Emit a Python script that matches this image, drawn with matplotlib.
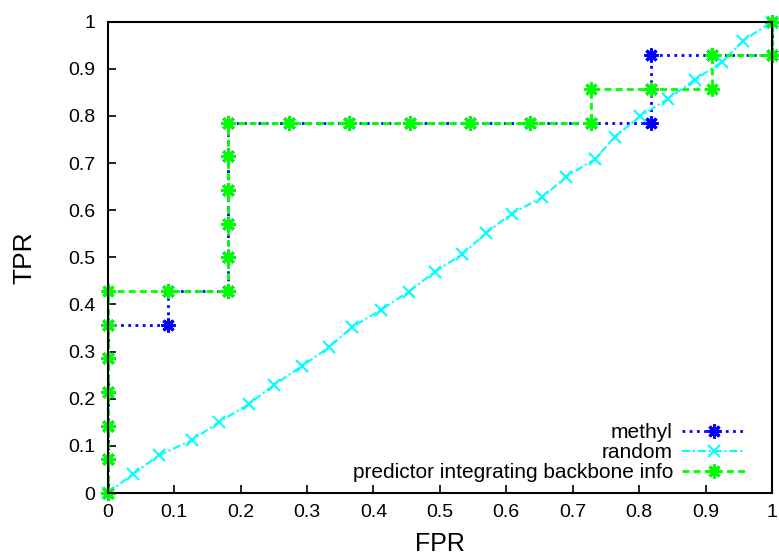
import matplotlib
matplotlib.use("Agg")
import matplotlib.pyplot as plt

plt.rcParams['font.family'] = ['Liberation Sans', 'DejaVu Sans']

# ROC curve data (FPR, TPR)
methyl_fpr = [0, 0, 0, 0, 0, 0, 1/11, 1/11, 2/11, 2/11, 2/11, 2/11, 2/11, 2/11,
              3/11, 4/11, 5/11, 6/11, 7/11, 8/11, 9/11, 9/11, 9/11, 10/11, 1, 1]
methyl_tpr = [0, 1/14, 2/14, 3/14, 4/14, 5/14, 5/14, 6/14, 6/14, 7/14, 8/14, 9/14, 10/14, 11/14,
              11/14, 11/14, 11/14, 11/14, 11/14, 11/14, 11/14, 12/14, 13/14, 13/14, 13/14, 1]

random_fpr = [0, 0.038, 0.077, 0.127, 0.168, 0.212, 0.250, 0.292, 0.333, 0.368, 0.412, 0.453,
              0.492, 0.534, 0.569, 0.608, 0.654, 0.690, 0.733, 0.764, 0.801, 0.843, 0.884,
              0.925, 0.957, 1.0]
random_tpr = [0, 0.040, 0.080, 0.112, 0.151, 0.188, 0.229, 0.269, 0.309, 0.352, 0.389, 0.427,
              0.469, 0.507, 0.551, 0.593, 0.627, 0.671, 0.708, 0.756, 0.799, 0.836, 0.877,
              0.915, 0.960, 1.0]

backbone_fpr = [0, 0, 0, 0, 0, 0, 0, 1/11, 2/11, 2/11, 2/11, 2/11, 2/11, 2/11,
                3/11, 4/11, 5/11, 6/11, 7/11, 8/11, 8/11, 9/11, 10/11, 10/11, 1, 1]
backbone_tpr = [0, 1/14, 2/14, 3/14, 4/14, 5/14, 6/14, 6/14, 6/14, 7/14, 8/14, 9/14, 10/14, 11/14,
                11/14, 11/14, 11/14, 11/14, 11/14, 11/14, 12/14, 12/14, 12/14, 13/14, 13/14, 1]

ticks = [0, 0.1, 0.2, 0.3, 0.4, 0.5, 0.6, 0.7, 0.8, 0.9, 1]
tick_labels = ['0', '0.1', '0.2', '0.3', '0.4', '0.5', '0.6', '0.7', '0.8', '0.9', '1']

fig = plt.figure(figsize=(7.79, 5.55), dpi=100)
ax = fig.add_axes([107.7/779, 1 - 493/555, (772 - 107.7)/779, (493 - 21.7)/555])

# gnuplot-like "*" point: plus and cross on top of each other
star = (8, 2, 0)
ax.plot(methyl_fpr, methyl_tpr, color='#0000ff', lw=2, dashes=(1, 1.6),
        marker=star, markersize=10, markeredgewidth=2.2, clip_on=False, label='methyl')
ax.plot(random_fpr, random_tpr, color='#00ffff', lw=1.5, dashes=(3.8, 1.4, 1, 1.4),
        marker='x', markersize=8.5, markeredgewidth=1.5, clip_on=False, label='random')
ax.plot(backbone_fpr, backbone_tpr, color='#00ff00', lw=2, dashes=(2.5, 1.5),
        marker=star, markersize=10, markeredgewidth=2.2, clip_on=False,
        label='predictor integrating backbone info')

ax.set_xlim(0, 1)
ax.set_ylim(0, 1)
ax.set_xticks(ticks)
ax.set_xticklabels(tick_labels)
ax.set_yticks(ticks)
ax.set_yticklabels(tick_labels)
ax.tick_params(direction='in', length=6, width=1.2, labelsize=14, top=False, right=False)
ax.tick_params(axis='x', pad=8)
ax.tick_params(axis='y', pad=9)
for s in ax.spines.values():
    s.set_linewidth(1.5)

ax.set_xlabel('FPR', fontsize=18, va='baseline')
ax.xaxis.set_label_coords(0.5, -0.123)
ax.set_ylabel('TPR', fontsize=19, va='baseline')
ax.yaxis.set_label_coords(-0.1144, 0.5)

ax.legend(loc='lower right', bbox_to_anchor=(0.959, 0.023), frameon=False,
          markerfirst=False, fontsize=15, handlelength=3.0, handletextpad=0.45,
          labelspacing=0.05, borderpad=0, borderaxespad=0, numpoints=1)

plt.savefig('out.png', dpi=100)
